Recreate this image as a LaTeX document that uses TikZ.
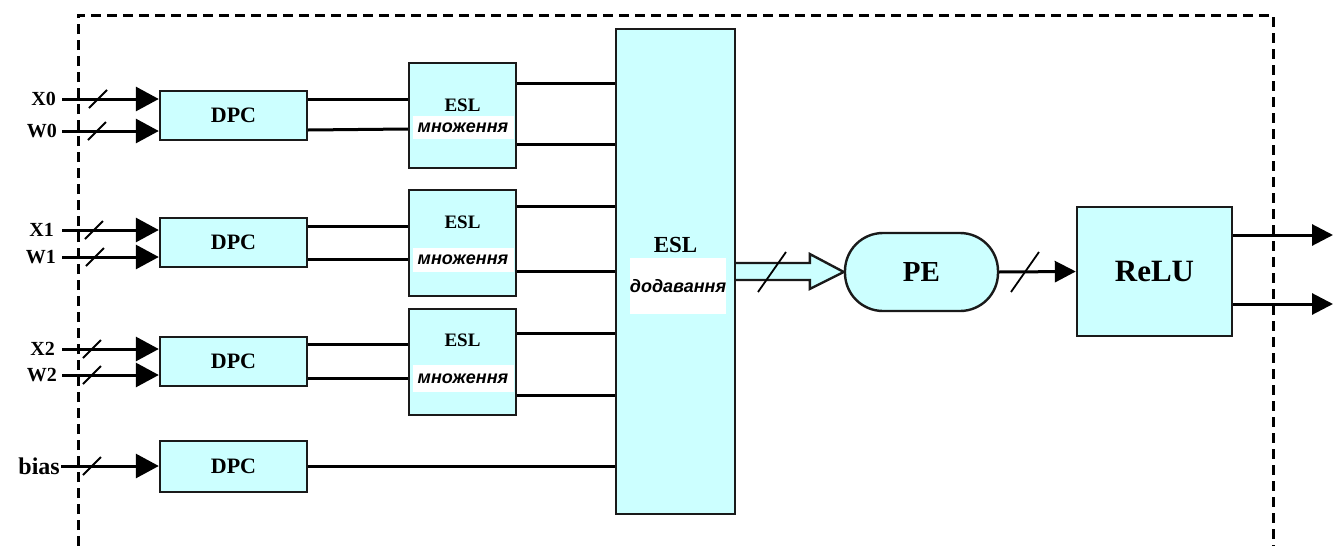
\documentclass[tikz,border=0pt]{standalone}
\usepackage{fontspec}
\setmainfont{Liberation Serif}
\newfontfamily\opfont{Liberation Sans}
\usetikzlibrary{arrows.meta,calc}
\definecolor{blockfill}{HTML}{CCFFFF}
\definecolor{edgeink}{HTML}{1A1A1A}

\tikzset{
  unitbox/.style={draw=edgeink,fill=blockfill,line width=2.4pt,inner sep=0pt,
    font=\bfseries\fontsize{22}{26}\selectfont},
  wirethick/.style={line width=3pt},
  inwire/.style={wirethick,-{Triangle[length=23pt,width=24pt]}},
  outwire/.style={wirethick,-{Triangle[length=21pt,width=21pt]}},
  pinlabel/.style={anchor=east,inner sep=0pt,font=\bfseries\fontsize{20}{22}\selectfont},
  opband/.style={fill=white,inner sep=0pt,font=\opfont\bfseries\itshape\fontsize{18}{20}\selectfont},
  unittitle/.style={inner sep=0pt,font=\bfseries\fontsize{19}{22}\selectfont},
  framedash/.style={line width=3pt,dash pattern=on 10pt off 6pt},
  busmark/.pic={\draw[line width=1.8pt] (-9,9) -- (9,-9);},
  widemark/.pic={\draw[line width=1.8pt] (-14,20) -- (14,-20);}
}

\begin{document}
\begin{tikzpicture}[x=1pt,y=-1pt]
\useasboundingbox (0,0) rectangle (1344,546);

% dashed boundary of the neuron block
\draw[framedash] (78,546) -- (78,15) -- (1273,15) -- (1273,546);

% input converters
\node[unitbox,minimum width=147pt,minimum height=49pt] (dpc0) at (233.5,115.5) {DPC};
\node[unitbox,minimum width=147pt,minimum height=49pt] (dpc1) at (233.5,242.5) {DPC};
\node[unitbox,minimum width=147pt,minimum height=49pt] (dpc2) at (233.5,361.5) {DPC};
\node[unitbox,minimum width=147pt,minimum height=51pt] (dpc3) at (233.5,466.5) {DPC};

% multiplication units
\node[unitbox,minimum width=107pt,minimum height=105pt] (esl0) at (462.5,115.5) {};
\node[unittitle] (esl0t) at (462.5,105) {ESL};
\node[opband,minimum width=101pt,minimum height=23pt] (esl0b) at (463,127.5) {множення};

\node[unitbox,minimum width=107pt,minimum height=106pt] (esl1) at (462.5,243) {};
\node[unittitle] (esl1t) at (462.5,222) {ESL};
\node[opband,minimum width=101pt,minimum height=24pt] (esl1b) at (463,260) {множення};

\node[unitbox,minimum width=107pt,minimum height=106pt] (esl2) at (462.5,362) {};
\node[unittitle] (esl2t) at (462.5,340) {ESL};
\node[opband,minimum width=101pt,minimum height=27pt] (esl2b) at (463,378.5) {множення};

% adder
\node[unitbox,minimum width=119pt,minimum height=485pt] (sum) at (675.5,271.5) {};
\node[unittitle,font=\bfseries\fontsize{23}{26}\selectfont] (sumt) at (675.5,245) {ESL};
\node[opband,minimum width=90pt,minimum height=56pt] (sumb) at (678,286) {додавання};

% processing element and activation
\node[unitbox,rounded corners=38pt,minimum width=153pt,minimum height=78pt,
      font=\bfseries\fontsize{29}{32}\selectfont] (pe) at (921.5,272) {PE};
\node[unitbox,minimum width=155pt,minimum height=129pt,
      font=\bfseries\fontsize{31}{34}\selectfont] (relu) at (1154.5,271.5) {ReLU};

% input pins
\node[pinlabel] (lx0) at (56,99) {X0};
\node[pinlabel] (lw0) at (57,131) {W0};
\node[pinlabel] (lx1) at (54,230) {X1};
\node[pinlabel] (lw1) at (56,257) {W1};
\node[pinlabel] (lx2) at (55,349) {X2};
\node[pinlabel] (lw2) at (57,375) {W2};
\node[pinlabel,font=\bfseries\fontsize{24}{26}\selectfont] (lb) at (60,466) {bias};

\draw[inwire,shorten <=6pt] (lx0.east) -- (dpc0.west |- lx0.east);
\draw[inwire,shorten <=5pt] (lw0.east) -- (dpc0.west |- lw0.east);
\draw[inwire,shorten <=8pt] (lx1.east) -- (dpc1.west |- lx1.east);
\draw[inwire,shorten <=6pt] (lw1.east) -- (dpc1.west |- lw1.east);
\draw[inwire,shorten <=7pt] (lx2.east) -- (dpc2.west |- lx2.east);
\draw[inwire,shorten <=5pt] (lw2.east) -- (dpc2.west |- lw2.east);
\draw[inwire,shorten <=1pt] (lb.east) -- (dpc3.west |- lb.east);

\pic at (98,99) {busmark};
\pic at (97,131) {busmark};
\pic at (94,230) {busmark};
\pic at (95,257) {busmark};
\pic at (92,349) {busmark};
\pic at (92,375) {busmark};
\pic at (92,466) {busmark};

% converters to multipliers
\draw[wirethick] (dpc0.east |- 0,99)  -- (esl0.west |- 0,99);
\draw[wirethick] (dpc0.east |- 0,130) -- (esl0.west |- 0,129);
\draw[wirethick] (dpc1.east |- 0,226) -- (esl1.west |- 0,226);
\draw[wirethick] (dpc1.east |- 0,259) -- (esl1.west |- 0,259);
\draw[wirethick] (dpc2.east |- 0,344) -- (esl2.west |- 0,344);
\draw[wirethick] (dpc2.east |- 0,378) -- (esl2.west |- 0,378);

% multipliers to adder
\draw[wirethick] (esl0.east |- 0,83)  -- (sum.west |- 0,83);
\draw[wirethick] (esl0.east |- 0,144) -- (sum.west |- 0,144);
\draw[wirethick] (esl1.east |- 0,206) -- (sum.west |- 0,206);
\draw[wirethick] (esl1.east |- 0,271) -- (sum.west |- 0,271);
\draw[wirethick] (esl2.east |- 0,333) -- (sum.west |- 0,333);
\draw[wirethick] (esl2.east |- 0,395) -- (sum.west |- 0,395);
\draw[wirethick] (dpc3.east) -- (sum.west |- dpc3.east);

% wide bus from adder to PE
\coordinate (bustip) at (pe.west);
\filldraw[fill=blockfill,draw=edgeink,line width=2.4pt,line join=miter]
  (sum.east |- 0,263) -- ($(bustip)+(-34,-9)$) -- ($(bustip)+(-34,-18)$) -- (bustip)
  -- ($(bustip)+(-34,17)$) -- ($(bustip)+(-34,8)$) -- (sum.east |- 0,280);
\pic at (772,272) {widemark};

% PE to ReLU
\draw[outwire] (pe.east) -- (relu.west);
\pic at (1025,272) {widemark};

% outputs
\coordinate (out1) at (1333,235);
\coordinate (out2) at (1333,304);
\draw[outwire] (relu.east |- out1) -- (out1);
\draw[outwire] (relu.east |- out2) -- (out2);
\end{tikzpicture}
\end{document}
